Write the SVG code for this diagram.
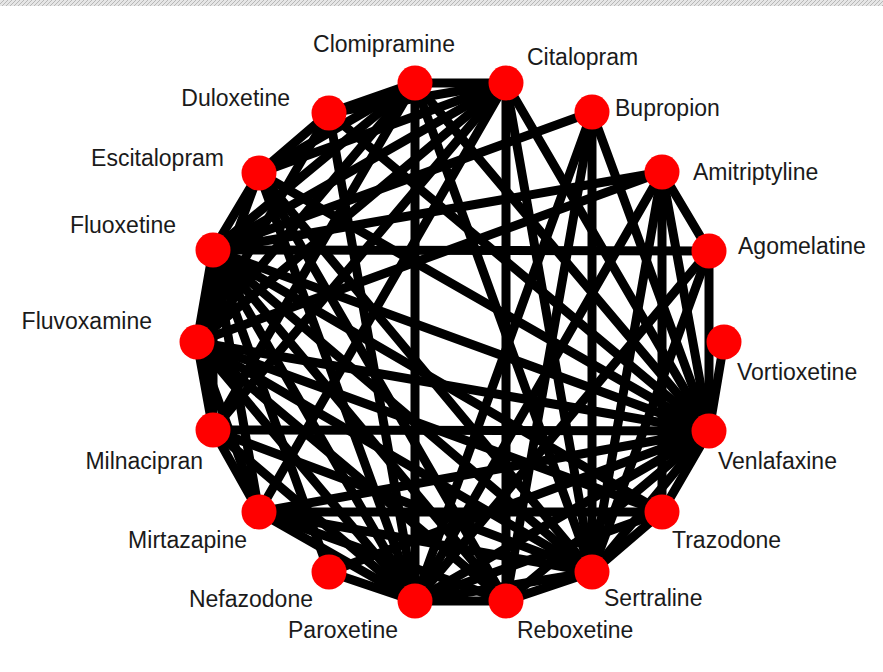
<svg xmlns="http://www.w3.org/2000/svg" width="883" height="672" viewBox="0 0 883 672">
<style>
.e line{stroke:#000;stroke-width:9;stroke-linecap:round}
.n circle{fill:#ff0000}
.n text{font-family:"Liberation Sans",Arial,sans-serif;font-size:23px;fill:#1a1a1a}
</style>
<defs>
<pattern id="hatch" width="4" height="4" patternUnits="userSpaceOnUse"><rect width="4" height="4" fill="#e6e6e6"/><path d="M0 4L4 0" stroke="#b8b8b8" stroke-width="1"/></pattern>
</defs>
<rect x="0" y="0" width="883" height="672" fill="#fff"/>
<rect x="0" y="0" width="883" height="6" fill="url(#hatch)"/>
<g id="edges" class="e">
<line x1="415" y1="83" x2="506" y2="83"/>
<line x1="329" y1="113" x2="415" y2="83"/>
<line x1="259" y1="173" x2="329" y2="113"/>
<line x1="213" y1="250" x2="259" y2="173"/>
<line x1="197" y1="342" x2="213" y2="250"/>
<line x1="213" y1="430" x2="197" y2="342"/>
<line x1="259" y1="512" x2="213" y2="430"/>
<line x1="329" y1="572" x2="415" y2="601"/>
<line x1="415" y1="601" x2="506" y2="601"/>
<line x1="506" y1="601" x2="592" y2="572"/>
<line x1="592" y1="572" x2="662" y2="512"/>
<line x1="662" y1="512" x2="709" y2="431"/>
<line x1="709" y1="431" x2="724" y2="342"/>
<line x1="662" y1="172" x2="709" y2="251"/>
<line x1="415" y1="83" x2="415" y2="601"/>
<line x1="415" y1="83" x2="259" y2="173"/>
<line x1="415" y1="83" x2="213" y2="250"/>
<line x1="415" y1="83" x2="197" y2="342"/>
<line x1="415" y1="83" x2="213" y2="430"/>
<line x1="415" y1="83" x2="592" y2="572"/>
<line x1="415" y1="83" x2="709" y2="431"/>
<line x1="506" y1="83" x2="506" y2="601"/>
<line x1="506" y1="83" x2="329" y2="113"/>
<line x1="506" y1="83" x2="259" y2="173"/>
<line x1="506" y1="83" x2="213" y2="250"/>
<line x1="506" y1="83" x2="197" y2="342"/>
<line x1="506" y1="83" x2="213" y2="430"/>
<line x1="506" y1="83" x2="709" y2="431"/>
<line x1="506" y1="83" x2="592" y2="572"/>
<line x1="506" y1="83" x2="259" y2="512"/>
<line x1="592" y1="112" x2="213" y2="250"/>
<line x1="592" y1="112" x2="592" y2="572"/>
<line x1="592" y1="112" x2="709" y2="431"/>
<line x1="592" y1="112" x2="506" y2="601"/>
<line x1="592" y1="112" x2="415" y2="601"/>
<line x1="662" y1="172" x2="213" y2="250"/>
<line x1="662" y1="172" x2="709" y2="431"/>
<line x1="662" y1="172" x2="415" y2="601"/>
<line x1="662" y1="172" x2="197" y2="342"/>
<line x1="662" y1="172" x2="592" y2="572"/>
<line x1="662" y1="172" x2="662" y2="512"/>
<line x1="709" y1="251" x2="213" y2="250"/>
<line x1="709" y1="251" x2="709" y2="431"/>
<line x1="709" y1="251" x2="415" y2="601"/>
<line x1="709" y1="251" x2="592" y2="572"/>
<line x1="709" y1="431" x2="213" y2="250"/>
<line x1="709" y1="431" x2="197" y2="342"/>
<line x1="709" y1="431" x2="213" y2="430"/>
<line x1="709" y1="431" x2="259" y2="512"/>
<line x1="709" y1="431" x2="415" y2="601"/>
<line x1="709" y1="431" x2="506" y2="601"/>
<line x1="709" y1="431" x2="592" y2="572"/>
<line x1="709" y1="431" x2="259" y2="173"/>
<line x1="709" y1="431" x2="329" y2="113"/>
<line x1="709" y1="431" x2="329" y2="572"/>
<line x1="662" y1="512" x2="259" y2="512"/>
<line x1="662" y1="512" x2="415" y2="601"/>
<line x1="662" y1="512" x2="197" y2="342"/>
<line x1="662" y1="512" x2="213" y2="250"/>
<line x1="592" y1="572" x2="213" y2="250"/>
<line x1="592" y1="572" x2="197" y2="342"/>
<line x1="592" y1="572" x2="213" y2="430"/>
<line x1="592" y1="572" x2="259" y2="512"/>
<line x1="592" y1="572" x2="415" y2="601"/>
<line x1="592" y1="572" x2="259" y2="173"/>
<line x1="506" y1="601" x2="213" y2="250"/>
<line x1="506" y1="601" x2="197" y2="342"/>
<line x1="506" y1="601" x2="259" y2="512"/>
<line x1="506" y1="601" x2="259" y2="173"/>
<line x1="415" y1="601" x2="213" y2="250"/>
<line x1="415" y1="601" x2="197" y2="342"/>
<line x1="415" y1="601" x2="213" y2="430"/>
<line x1="415" y1="601" x2="259" y2="512"/>
<line x1="415" y1="601" x2="259" y2="173"/>
<line x1="415" y1="601" x2="329" y2="113"/>
<line x1="329" y1="572" x2="213" y2="250"/>
<line x1="259" y1="512" x2="213" y2="250"/>
<line x1="259" y1="512" x2="197" y2="342"/>
<line x1="329" y1="113" x2="197" y2="342"/>
<line x1="259" y1="173" x2="197" y2="342"/>
<line x1="213" y1="430" x2="213" y2="250"/>
</g>
<g id="n-clomipramine" class="n"><circle cx="415" cy="83" r="17.5"/><text x="384" y="52" text-anchor="middle">Clomipramine</text></g>
<g id="n-citalopram" class="n"><circle cx="506" cy="83" r="17.5"/><text x="527" y="65">Citalopram</text></g>
<g id="n-bupropion" class="n"><circle cx="592" cy="112" r="17.5"/><text x="615" y="116">Bupropion</text></g>
<g id="n-amitriptyline" class="n"><circle cx="662" cy="172" r="17.5"/><text x="693" y="180">Amitriptyline</text></g>
<g id="n-agomelatine" class="n"><circle cx="709" cy="251" r="17.5"/><text x="738" y="254">Agomelatine</text></g>
<g id="n-vortioxetine" class="n"><circle cx="724" cy="342" r="17.5"/><text x="737" y="380">Vortioxetine</text></g>
<g id="n-venlafaxine" class="n"><circle cx="709" cy="431" r="17.5"/><text x="718" y="469">Venlafaxine</text></g>
<g id="n-trazodone" class="n"><circle cx="662" cy="512" r="17.5"/><text x="672" y="548">Trazodone</text></g>
<g id="n-sertraline" class="n"><circle cx="592" cy="572" r="17.5"/><text x="604" y="606">Sertraline</text></g>
<g id="n-reboxetine" class="n"><circle cx="506" cy="601" r="17.5"/><text x="517" y="638">Reboxetine</text></g>
<g id="n-paroxetine" class="n"><circle cx="415" cy="601" r="17.5"/><text x="398" y="638" text-anchor="end">Paroxetine</text></g>
<g id="n-nefazodone" class="n"><circle cx="329" cy="572" r="17.5"/><text x="313" y="607" text-anchor="end">Nefazodone</text></g>
<g id="n-mirtazapine" class="n"><circle cx="259" cy="512" r="17.5"/><text x="247" y="548" text-anchor="end">Mirtazapine</text></g>
<g id="n-milnacipran" class="n"><circle cx="213" cy="430" r="17.5"/><text x="203" y="469" text-anchor="end">Milnacipran</text></g>
<g id="n-fluvoxamine" class="n"><circle cx="197" cy="342" r="17.5"/><text x="152" y="329" text-anchor="end">Fluvoxamine</text></g>
<g id="n-fluoxetine" class="n"><circle cx="213" cy="250" r="17.5"/><text x="176" y="233" text-anchor="end">Fluoxetine</text></g>
<g id="n-escitalopram" class="n"><circle cx="259" cy="173" r="17.5"/><text x="224" y="166" text-anchor="end">Escitalopram</text></g>
<g id="n-duloxetine" class="n"><circle cx="329" cy="113" r="17.5"/><text x="290" y="106" text-anchor="end">Duloxetine</text></g>
</svg>
